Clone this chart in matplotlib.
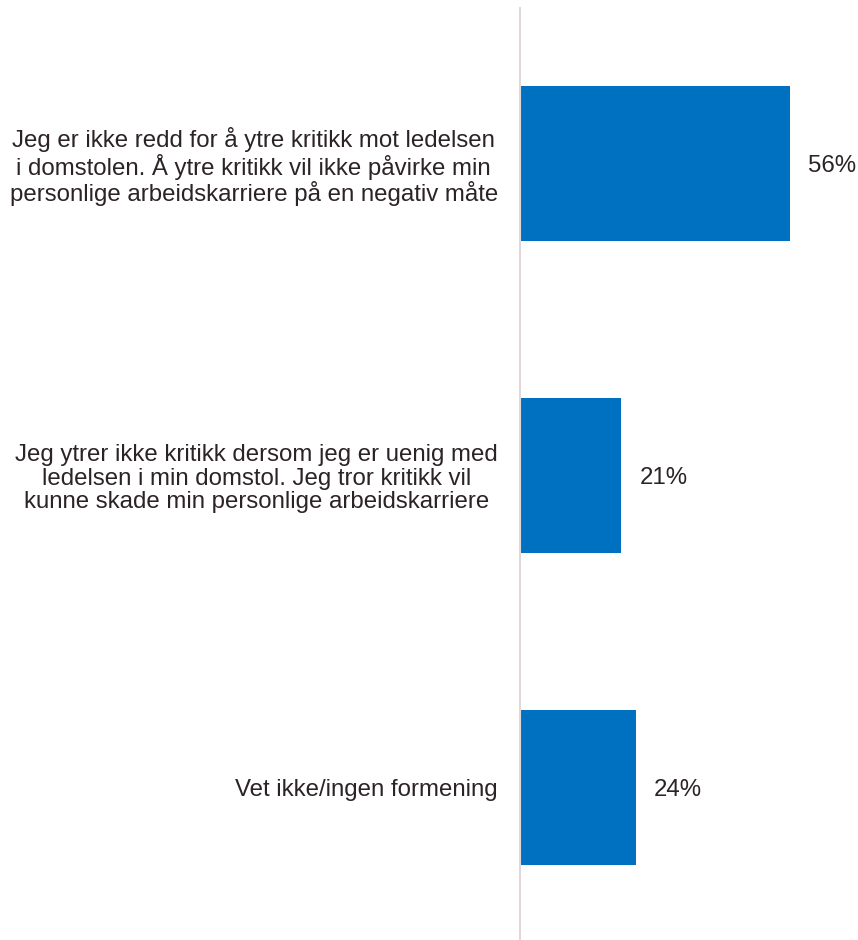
import matplotlib
matplotlib.use("Agg")
import matplotlib.pyplot as plt

# Survey answers and share of respondents (%)
categories = [
    "Jeg er ikke redd for å ytre kritikk mot ledelsen\ni domstolen. Å ytre kritikk vil ikke påvirke min\npersonlige arbeidskarriere på en negativ måte",
    "Jeg ytrer ikke kritikk dersom jeg er uenig med\nledelsen i min domstol. Jeg tror kritikk vil\nkunne skade min personlige arbeidskarriere",
    "Vet ikke/ingen formening",
]
values = [56, 21, 24]
value_labels = ["56%", "21%", "24%"]

BAR_COLOR = "#0070c0"
TEXT_COLOR = "#2b2326"
AXIS_COLOR = "#e2d8dc"
FS = 17.3

plt.rcParams["font.family"] = ["Liberation Sans", "DejaVu Sans"]

W, H = 858, 940
fig = plt.figure(figsize=(W / 100, H / 100), dpi=100)

ax_left = 520 / W
ax_top = 1 - 7.5 / H
ax_bottom = 1 - 943.5 / H
xmax = 70
px_per_unit = 4.815
ax_width = xmax * px_per_unit / W
ax = fig.add_axes([ax_left, ax_bottom, ax_width, ax_top - ax_bottom])

ypos = list(range(len(categories)))
ax.barh(ypos, values, height=0.497, color=BAR_COLOR, left=0)
ax.set_ylim(len(categories) - 0.5, -0.5)
ax.set_xlim(0, xmax)

for y, v, lab in zip(ypos, values, value_labels):
    ax.annotate(lab, xy=(v, y), xytext=(13.4, -2), textcoords="offset points",
                ha="left", va="center", fontsize=FS, color=TEXT_COLOR)

ax.set_yticks(ypos)
ax.set_yticklabels(categories, fontsize=FS, color=TEXT_COLOR,
                   multialignment="center", linespacing=1.07)
ax.tick_params(axis="y", length=0, pad=16)
ax.set_xticks([])

for side in ["top", "right", "bottom"]:
    ax.spines[side].set_visible(False)
ax.spines["left"].set_color(AXIS_COLOR)
ax.spines["left"].set_linewidth(1.5)

fig.savefig("out.png", dpi=100, facecolor="white")
